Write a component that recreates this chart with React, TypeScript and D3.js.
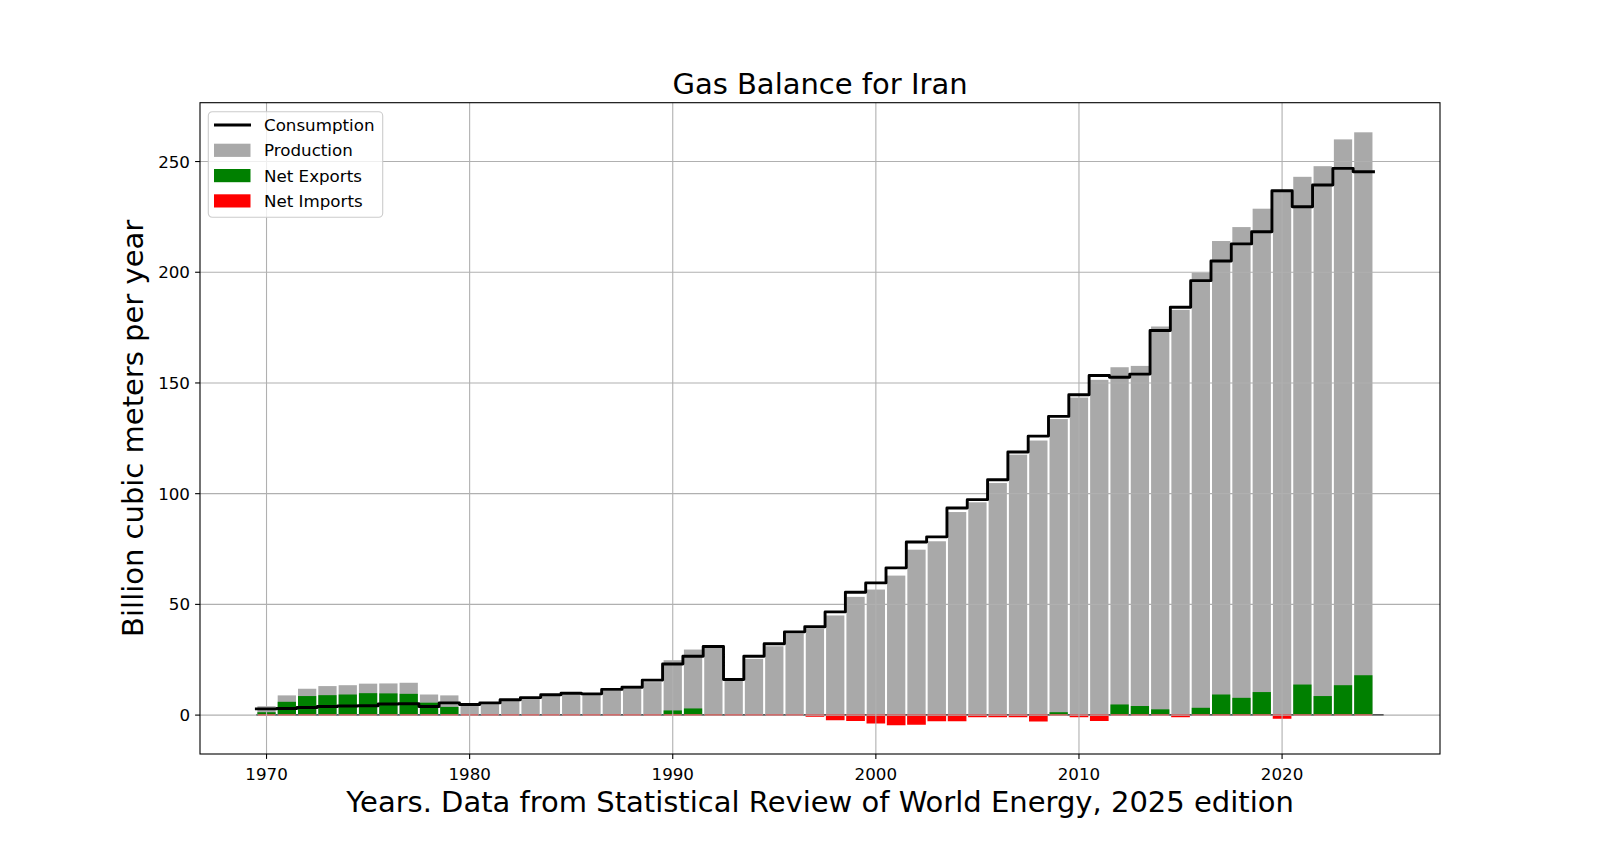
import React from "react";
import * as d3 from "d3";

const WIDTH = 1600;
const HEIGHT = 862;
const margin = { top: 102.7, right: 160, bottom: 108, left: 200 };
const FONT = "DejaVu Sans, sans-serif";

// one bar per year
const years = d3.range(1970, 2025);

// billion cubic meters per year
const production = [
  4.0, 8.9, 11.9, 13.1, 13.5, 14.2, 14.3, 14.6, 9.3, 8.9,
  4.2, 5.3, 6.6, 7.5, 8.6, 9.4, 9.2, 11.0, 11.8, 14.9,
  24.8, 29.6, 30.4, 15.7, 25.4, 31.1, 36.9, 39.0, 45.0, 53.4,
  56.7, 63.0, 74.7, 78.5, 91.7, 96.1, 104.8, 117.6, 124.0, 133.7,
  143.4, 151.4, 157.1, 157.7, 175.5, 183.0, 199.8, 214.1, 220.4, 228.7,
  236.4, 243.1, 247.9, 260.0, 263.2,
];

const consumption = [
  2.8, 3.0, 3.4, 3.9, 4.1, 4.2, 5.0, 5.1, 3.9, 5.5,
  4.8, 5.5, 6.9, 7.9, 9.2, 9.9, 9.6, 11.6, 12.6, 15.8,
  23.1, 26.6, 31.0, 16.1, 26.6, 32.2, 37.6, 39.9, 46.6, 55.5,
  59.7, 66.5, 78.2, 80.5, 93.5, 97.3, 106.3, 118.8, 126.0, 134.9,
  144.7, 153.4, 152.6, 154.0, 173.7, 184.2, 196.2, 205.1, 212.8, 218.3,
  236.8, 229.6, 239.4, 246.9, 245.4,
];

// positive = net exports, negative = net imports
const netTrade = [
  1.3, 6.0, 8.6, 9.0, 9.3, 9.9, 9.8, 9.6, 5.6, 3.7,
  0, 0, 0, 0, 0, 0, 0, 0, 0, 0,
  2.1, 3.0, 0.2, 0, 0, 0, 0, -0.4, -2.0, -2.3,
  -3.4, -4.2, -4.0, -2.4, -2.4, -0.6, -0.6, -0.6, -2.5, 1.3,
  -0.6, -2.3, 4.8, 4.1, 2.6, -0.6, 3.3, 9.3, 7.8, 10.4,
  -1.3, 13.8, 8.6, 13.5, 18.0,
];

const xTicks = [1970, 1980, 1990, 2000, 2010, 2020];
const yTicks = [0, 50, 100, 150, 200, 250];

const legendItems = [
  { label: "Consumption", kind: "line", color: "#000000" },
  { label: "Production", kind: "patch", color: "#a9a9a9" },
  { label: "Net Exports", kind: "patch", color: "#008000" },
  { label: "Net Imports", kind: "patch", color: "#ff0000" },
];

const BAR_W = 0.9;

// matplotlib-like 5% padding around the data extent
const pad = ([a, b]: number[]) => {
  const m = (b - a) * 0.05;
  return [a - m, b + m];
};

export default function App() {
  const innerW = WIDTH - margin.left - margin.right;
  const innerH = HEIGHT - margin.top - margin.bottom;

  const first = years[0];
  const last = years[years.length - 1];
  const zeroSpan = [first - 0.5, last + 1];

  const x = d3.scaleLinear().domain(pad(zeroSpan)).range([0, innerW]);
  const yMin = Math.min(0, d3.min(netTrade) as number);
  const yMax = d3.max(production) as number;
  const y = d3.scaleLinear().domain(pad([yMin, yMax])).range([innerH, 0]);

  const bw = x(first + BAR_W) - x(first);

  const stepPts: [number, number][] = years.map((yr, i) => [yr - 0.5, consumption[i]]);
  stepPts.push([last + 0.5, consumption[consumption.length - 1]]);
  const stepLine = d3
    .line<[number, number]>()
    .x((d) => x(d[0]))
    .y((d) => y(d[1]))
    .curve(d3.curveStepAfter);

  const tickLen = 4.9;
  const tickFont = 16.7;
  const bigFont = 29;

  return (
    <svg
      width={WIDTH}
      height={HEIGHT}
      style={{ position: "absolute", left: 0, top: 0, background: "#fff" }}
      fontFamily={FONT}
    >
      <rect width={WIDTH} height={HEIGHT} fill="#fff" />

      <text x={margin.left + innerW / 2} y={94} textAnchor="middle" fontSize={bigFont}>
        Gas Balance for Iran
      </text>

      <g transform={`translate(${margin.left},${margin.top})`}>
        {/* zero line under the bars */}
        <line
          x1={x(zeroSpan[0])}
          x2={x(zeroSpan[1])}
          y1={y(0)}
          y2={y(0)}
          stroke="#000"
          strokeWidth={2}
        />

        {/* production */}
        {years.map((yr, i) => (
          <rect
            key={"p" + yr}
            x={x(yr - BAR_W / 2)}
            width={bw}
            y={y(production[i])}
            height={y(0) - y(production[i])}
            fill="#a9a9a9"
          />
        ))}

        {/* net exports */}
        {years.map((yr, i) => {
          const v = Math.max(0, netTrade[i]);
          return (
            <rect
              key={"e" + yr}
              x={x(yr - BAR_W / 2)}
              width={bw}
              y={y(v)}
              height={y(0) - y(v)}
              fill="#008000"
            />
          );
        })}

        {/* net imports, drawn as paths so empty years still leave a red edge */}
        {years.map((yr, i) => {
          const v = Math.min(0, netTrade[i]);
          const x0 = x(yr - BAR_W / 2) + 0.6;
          const x1 = x0 + bw - 1.2;
          const y0 = y(0);
          const y1 = y(v);
          return (
            <path
              key={"m" + yr}
              d={`M${x0},${y0}H${x1}V${y1}H${x0}Z`}
              fill="#ff0000"
              stroke="#ff0000"
              strokeWidth={1.6}
            />
          );
        })}

        {/* grid */}
        {xTicks.map((t) => (
          <line key={"gx" + t} x1={x(t)} x2={x(t)} y1={0} y2={innerH} stroke="#b0b0b0" strokeWidth={1.1} />
        ))}
        {yTicks.map((t) => (
          <line key={"gy" + t} x1={0} x2={innerW} y1={y(t)} y2={y(t)} stroke="#b0b0b0" strokeWidth={1.1} />
        ))}

        {/* consumption */}
        <path
          d={stepLine(stepPts) || ""}
          fill="none"
          stroke="#000"
          strokeWidth={2.9}
          strokeLinejoin="round"
          strokeLinecap="square"
        />

        {/* frame */}
        <rect x={0} y={0} width={innerW} height={innerH} fill="none" stroke="#000" strokeWidth={1.1} />

        {/* x axis */}
        {xTicks.map((t) => (
          <g key={"tx" + t} transform={`translate(${x(t)},${innerH})`}>
            <line y2={tickLen} stroke="#000" strokeWidth={1.1} />
            <text y={26} textAnchor="middle" fontSize={tickFont}>
              {t}
            </text>
          </g>
        ))}

        {/* y axis */}
        {yTicks.map((t) => (
          <g key={"ty" + t} transform={`translate(0,${y(t)})`}>
            <line x2={-tickLen} stroke="#000" strokeWidth={1.1} />
            <text x={-10} dy="0.36em" textAnchor="end" fontSize={tickFont}>
              {t}
            </text>
          </g>
        ))}

        {/* legend */}
        <g transform="translate(8.3,9)">
          <rect
            x={0}
            y={0}
            width={174.4}
            height={105.6}
            rx={4}
            fill="#fff"
            fillOpacity={0.8}
            stroke="#cccccc"
            strokeWidth={1.1}
          />
          {legendItems.map((it, i) => {
            const cy = 13.3 + i * 25.3;
            return (
              <g key={it.label} transform={`translate(0,${cy})`}>
                {it.kind === "line" ? (
                  <line x1={5.7} x2={42.7} y1={0} y2={0} stroke={it.color} strokeWidth={2.9} />
                ) : (
                  <rect x={5.7} y={-6.6} width={36.5} height={13.2} fill={it.color} />
                )}
                <text x={55.7} dy="0.36em" fontSize={tickFont}>
                  {it.label}
                </text>
              </g>
            );
          })}
        </g>
      </g>

      <text x={margin.left + innerW / 2} y={812} textAnchor="middle" fontSize={bigFont}>
        Years. Data from Statistical Review of World Energy, 2025 edition
      </text>

      <text
        transform={`translate(143,${margin.top + innerH / 2}) rotate(-90)`}
        textAnchor="middle"
        fontSize={bigFont}
      >
        Billion cubic meters per year
      </text>
    </svg>
  );
}
